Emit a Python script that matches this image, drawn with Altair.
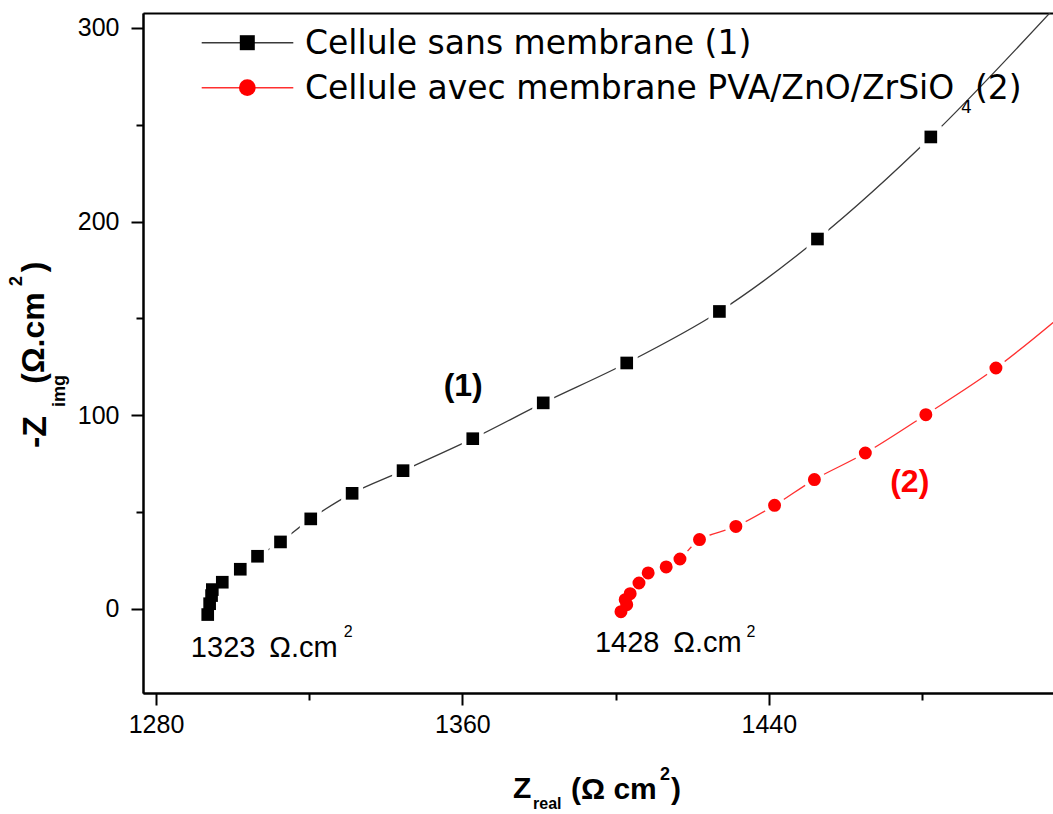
import altair as alt
import pandas as pd

# ---------------- data ----------------
SERIES = ["Cellule sans membrane (1)", "Cellule avec membrane PVA/ZnO/ZrSiO"]

s1_x = [1293.5, 1294.0, 1294.5, 1294.7, 1297.3, 1302.0, 1306.5, 1312.5, 1320.4,
        1331.2, 1344.5, 1362.7, 1381.1, 1402.9, 1427.1, 1452.7, 1482.3]
s1_y = [-2.9, 2.7, 6.9, 10.0, 13.8, 20.5, 27.2, 34.6, 46.5,
        59.7, 71.4, 87.9, 106.4, 127.0, 153.6, 191.0, 243.7]
# the fitted curve leaves the frame at the upper right
s1_tail_x = [1516.6]
s1_tail_y = [314.6]

s2_x = [1401.4, 1402.9, 1402.5, 1403.8, 1406.1, 1408.5, 1413.2, 1416.8,
        1421.9, 1431.4, 1441.5, 1451.9, 1465.2, 1481.0, 1499.3]
s2_y = [-1.4, 2.2, 4.8, 7.9, 13.4, 18.6, 21.7, 25.8,
        35.8, 42.6, 53.5, 66.8, 80.5, 100.3, 124.4]
s2_tail_x = [1517.3]
s2_tail_y = [153.0]

ann_x = [1289.1, 1394.6]
ann_y = [-24.8, -22.4]
ann_t = ["1323 \u2009Ω.cm", "1428 \u2009Ω.cm"]
sup_x = [1329.0, 1434.2]
sup_y = [-14.5, -14.3]

curve_lab_x = [1360.2, 1476.8]
curve_lab_y = [110.1, 60.6]
curve_lab_t = ["(1)", "(2)"]

X_DOMAIN = [1276.6, 1514.2]
Y_DOMAIN = [-43.4, 307.7]
X_MAJOR = [1280, 1360, 1440]
X_MINOR = [1320, 1400, 1480]
Y_MAJOR = [0, 100, 200, 300]
Y_MINOR = [50, 150, 250]

# ---------------- tables ----------------
d1 = pd.DataFrame({"x": s1_x, "y": s1_y, "i": range(len(s1_x))})
d2 = pd.DataFrame({"x": s2_x, "y": s2_y, "i": range(len(s2_x))})
l1 = pd.DataFrame({"x": s1_x + s1_tail_x, "y": s1_y + s1_tail_y,
                   "i": range(len(s1_x) + 1)})
l2 = pd.DataFrame({"x": s2_x + s2_tail_x, "y": s2_y + s2_tail_y,
                   "i": range(len(s2_x) + 1)})
ann = pd.DataFrame({"x": ann_x, "y": ann_y, "t": ann_t})
sup = pd.DataFrame({"x": sup_x, "y": sup_y, "t": ["2", "2"]})
lab1 = pd.DataFrame({"x": curve_lab_x[:1], "y": curve_lab_y[:1], "t": curve_lab_t[:1]})
lab2 = pd.DataFrame({"x": curve_lab_x[1:], "y": curve_lab_y[1:], "t": curve_lab_t[1:]})
one = pd.DataFrame({"t": [""]})

ARIAL = "Liberation Sans"
W, H = 910, 680
OX, OY = 143, 13  # plot origin on the page

xs = alt.Scale(domain=X_DOMAIN, nice=False, zero=False)
ys = alt.Scale(domain=Y_DOMAIN, nice=False, zero=False)


def XE(axis=None):
    return alt.X("x:Q", scale=xs, axis=axis)


def YE(axis=None):
    return alt.Y("y:Q", scale=ys, axis=axis)


axis_common = dict(domainColor="black", domainWidth=2, tickColor="black",
                   tickWidth=2, labelColor="black", labelFont=ARIAL,
                   labelFontSize=25, grid=False, title=None, format="d",
                   labelFlush=False)

layers = []

# axes
layers.append(alt.Chart(d1).mark_point(opacity=0).encode(
    x=XE(alt.Axis(orient="bottom", values=X_MAJOR, tickSize=12, labelPadding=7, **axis_common)),
    y=YE(None)))
layers.append(alt.Chart(d1).mark_point(opacity=0).encode(
    x=XE(alt.Axis(orient="bottom", values=X_MINOR, tickSize=7, labels=False, **axis_common)),
    y=YE(None)))
layers.append(alt.Chart(d1).mark_point(opacity=0).encode(
    x=XE(alt.Axis(orient="top", values=X_MINOR, ticks=False, labels=False, **axis_common)),
    y=YE(None)))
layers.append(alt.Chart(d1).mark_point(opacity=0).encode(
    x=XE(None),
    y=YE(alt.Axis(orient="left", values=Y_MAJOR, tickSize=12, labelPadding=12, **axis_common))))
layers.append(alt.Chart(d1).mark_point(opacity=0).encode(
    x=XE(None),
    y=YE(alt.Axis(orient="left", values=Y_MINOR, tickSize=7, labels=False, **axis_common))))

# curves
layers.append(alt.Chart(l1).mark_line(clip=True, color="#3a3a3a", strokeWidth=1.3,
                                      interpolate="catmull-rom").encode(
    x=XE(), y=YE(), order="i:Q"))
layers.append(alt.Chart(l2).mark_line(clip=True, color="#ff3030", strokeWidth=1.3,
                                      interpolate="catmull-rom").encode(
    x=XE(), y=YE(), order="i:Q"))
# white halos (gaps in the line around markers)
layers.append(alt.Chart(d1).mark_point(clip=True, shape="square", filled=True, color="white",
                                       opacity=1, size=480, strokeWidth=0).encode(x=XE(), y=YE()))
layers.append(alt.Chart(d2).mark_point(clip=True, shape="circle", filled=True, color="white",
                                       opacity=1, size=480, strokeWidth=0).encode(x=XE(), y=YE()))
# markers
layers.append(alt.Chart(d1).mark_point(clip=True, shape="square", filled=True, color="black",
                                       opacity=1, size=160, strokeWidth=0).encode(x=XE(), y=YE()))
layers.append(alt.Chart(d2).mark_point(clip=True, shape="circle", filled=True, color="#ff0000",
                                       opacity=1, size=168, strokeWidth=0).encode(x=XE(), y=YE()))

# annotations in data space
layers.append(alt.Chart(ann).mark_text(font=ARIAL, fontSize=29, align="left",
                                       baseline="alphabetic", color="black").encode(
    x=XE(), y=YE(), text="t:N"))
layers.append(alt.Chart(sup).mark_text(font=ARIAL, fontSize=16, align="left",
                                       baseline="alphabetic", color="black").encode(
    x=XE(), y=YE(), text="t:N"))
layers.append(alt.Chart(lab1).mark_text(font=ARIAL, fontSize=32, fontWeight="bold", align="center",
                                        baseline="alphabetic", color="black").encode(
    x=XE(), y=YE(), text="t:N"))
layers.append(alt.Chart(lab2).mark_text(font=ARIAL, fontSize=32, fontWeight="bold", align="center",
                                        baseline="alphabetic", color="#ff0000").encode(
    x=XE(), y=YE(), text="t:N"))


def txt(s, px, py, size, bold=True, angle=0, align="left", baseline="alphabetic",
        font=ARIAL, color="black"):
    kw = dict(font=font, fontSize=size, align=align, baseline=baseline, color=color)
    if bold:
        kw["fontWeight"] = "bold"
    if angle:
        kw["angle"] = angle
    return alt.Chart(pd.DataFrame({"t": [s]})).mark_text(**kw).encode(
        x=alt.value(px - OX), y=alt.value(py - OY), text="t:N")


# legend
layers.append(alt.Chart(one).mark_rule(color="#3a3a3a", strokeWidth=1.5).encode(
    x=alt.value(201.7 - OX), x2=alt.value(293.3 - OX), y=alt.value(42.7 - OY)))
layers.append(alt.Chart(one).mark_rule(color="#ff3030", strokeWidth=1.5).encode(
    x=alt.value(201.7 - OX), x2=alt.value(293.3 - OX), y=alt.value(87.7 - OY)))
layers.append(alt.Chart(one).mark_point(shape="square", filled=True, color="black", opacity=1,
                                        size=225, strokeWidth=0).encode(
    x=alt.value(247.3 - OX), y=alt.value(42.7 - OY)))
layers.append(alt.Chart(one).mark_point(shape="circle", filled=True, color="#ff0000", opacity=1,
                                        size=280, strokeWidth=0).encode(
    x=alt.value(247.3 - OX), y=alt.value(87.7 - OY)))
layers.append(txt(SERIES[0], 305, 53.5, 33, bold=False, font="DejaVu Sans"))
layers.append(txt(SERIES[1], 305, 99, 33, bold=False, font="DejaVu Sans"))
layers.append(txt("4", 961, 113, 17, bold=False, font="DejaVu Sans"))
layers.append(txt("(2)", 975, 99, 33, bold=False, font="DejaVu Sans"))

# x title: Z_real (Ω cm²)
layers.append(txt("Z", 513, 798, 30))
layers.append(txt("real", 533, 809, 16))
layers.append(txt("(Ω cm", 571, 799, 30))
layers.append(txt("2", 660, 780, 18))
layers.append(txt(")", 671, 799, 30))

# y title: -Z_img (Ω.cm²) rotated
layers.append(txt("-Z", 36, 432, 34, angle=270, align="center", baseline="middle"))
layers.append(txt("img", 60, 391, 18, angle=270, align="center", baseline="middle"))
layers.append(txt("(Ω.cm", 34, 338, 32, angle=270, align="center", baseline="middle"))
layers.append(txt("2", 17, 281, 18, angle=270, align="center", baseline="middle"))
layers.append(txt(")", 34, 267, 32, angle=270, align="center", baseline="middle"))

chart = alt.layer(*layers).resolve_scale(x="independent", y="independent").properties(
    width=W, height=H,
    autosize=alt.AutoSizeParams(type="none"),
    padding={"left": OX, "top": OY, "right": 0, "bottom": 814 - OY - H},
    background="white",
).configure_view(stroke=None)

chart.save("out.html", embed_options={"renderer": "svg", "actions": False})
